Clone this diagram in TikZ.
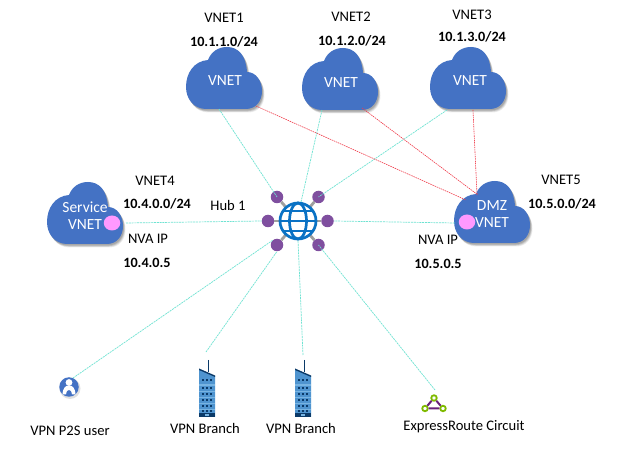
\documentclass[tikz,border=0pt]{standalone}
\usepackage{fontspec}
\setmainfont{Carlito}
\definecolor{cloudblue}{HTML}{4472C4}
\definecolor{teal1}{HTML}{6FE3D2}
\definecolor{red1}{HTML}{F03C4A}
\definecolor{hubblue}{HTML}{0A72C4}
\definecolor{dotpurple}{HTML}{7F4F9F}
\definecolor{pink1}{HTML}{FF99FF}
\definecolor{bldg}{HTML}{4F94CF}
\definecolor{bldglight}{HTML}{78B4E2}
\definecolor{bldgdark}{HTML}{0B3A68}
\definecolor{ergreen}{HTML}{7FBA00}
\definecolor{erpurple}{HTML}{68217A}
\newcommand{\cloudpath}{(20,62) .. controls (8,62) and (0,52) .. (0,40) .. controls (0,26) and (8,14) .. (22,13) .. controls (25,5) and (32,0) .. (41,0) .. controls (52,0) and (60,8) .. (61,25) .. controls (70,25) and (76,34) .. (76,44) .. controls (76,54) and (70,62) .. (60,62) -- cycle}
\tikzset{
  x=1pt,y=-1pt,
  cloudtext/.style={text=white,font=\fontsize{15.5}{15.5}\selectfont,inner sep=0pt,align=center},
  lbl/.style={text=black,font=\fontsize{14.6}{15}\selectfont,inner sep=0pt},
  addr/.style={text=black,font=\bfseries\fontsize{14.2}{15}\selectfont,inner sep=0pt},
  tealline/.style={draw=teal1,line width=.7pt,dash pattern=on 2pt off .8pt},
  redline/.style={draw=red1,line width=.6pt,dash pattern=on 1.5pt off .8pt},
  hubdot/.style={circle,fill=dotpurple,minimum size=12.5pt,inner sep=0pt},
  spoke/.style={draw=gray!75,line width=2.8pt},
  nva/.style={ellipse,fill=pink1,minimum width=16.5pt,minimum height=15pt,inner sep=0pt},
  globe/.style={draw=hubblue,line width=2.7pt},
  ernode/.style={circle,draw=ergreen,fill=white,line width=1.8pt,minimum size=5.5pt,inner sep=0pt},
  cloudpic/.pic={
    \foreach \s/\o in {5/.07,4/.09,3/.11,2/.12}{
      \fill[black,opacity=\o,shift={(\s*.5,\s*.7)}] \cloudpath;
    }
    \fill[cloudblue] \cloudpath;
  },
  buildingpic/.pic={
    \draw[bldgdark,line width=1pt] (9,0) -- (9,12);
    \fill[bldg] (0,9) -- (16,16) -- (16,57) -- (0,57) -- cycle;
    \fill[bldgdark] (0,8.5) -- (16,15.5) -- (16,17) -- (0,10) -- cycle;
    \fill[bldgdark] (0,53.5) rectangle (16,57);
    \fill[bldglight] (6,54.3) rectangle (10,56.2);
    \foreach \yy in {24.5,31,37,43,49}{
      \fill[bldglight] (0,\yy) rectangle (16,\yy+1.2);
    }
    \foreach \yy in {19,27,33,39,45,50.5}{
      \fill[bldgdark] (3,\yy) rectangle (5,\yy+2);
      \fill[bldgdark] (7,\yy) rectangle (9,\yy+2);
      \fill[bldgdark] (11,\yy) rectangle (13,\yy+2);
    }
  }
}
\usetikzlibrary{shapes.geometric}
\begin{document}
\begin{tikzpicture}
\useasboundingbox (0,0) rectangle (633,449);
\fill[white] (0,0) rectangle (633,449);

% clouds
\pic at (186,47) {cloudpic};
\pic at (302,48) {cloudpic};
\pic at (430,47) {cloudpic};
\pic at (47,182) {cloudpic};
\pic at (454,181) {cloudpic};

\node[cloudtext] (vnet1) at (225,81) {VNET};
\node[cloudtext] (vnet2) at (341,83) {VNET};
\node[cloudtext] (vnet3) at (470,81) {VNET};
\node[cloudtext] (svc) at (85,207) {Service};
\node[cloudtext] (svcv) at (85,225) {VNET};
\node[cloudtext] (dmz) at (492,206) {DMZ};
\node[cloudtext] (dmzv) at (492,223) {VNET};

% connector anchors
\coordinate (v1g) at (219,109);
\coordinate (v1r) at (256,106);
\coordinate (v2g) at (322,110);
\coordinate (v2r) at (362,108);
\coordinate (v3g) at (447,110);
\coordinate (v3r) at (473,110);
\coordinate (v4g) at (126,223);
\coordinate (v5g) at (455,223);
\coordinate (v5r1) at (466,200);
\coordinate (v5r2) at (478,195);
\coordinate (v5r3) at (477,194);
\coordinate (gt) at (301,202);
\coordinate (gb) at (298,240);

% hub
\node[hubdot] (d1) at (277,197) {};
\node[hubdot] (d2) at (318.5,197) {};
\node[hubdot] (d3) at (268,221) {};
\node[hubdot] (d4) at (327.5,221) {};
\node[hubdot] (d5) at (277,245) {};
\node[hubdot] (d6) at (318.5,245) {};
\foreach \d in {d1,d2,d3,d4,d5,d6}{ \draw[spoke] (298,221) -- (\d); }
\node[circle,fill=white,minimum size=37pt,inner sep=0pt] (hub) at (298,221) {};
\draw[globe] (298,221) circle (18);
\draw[globe] (298,221) ellipse (8.5 and 18);
\draw[globe] (280,221) -- (316,221);
\draw[globe] (283.5,211) -- (312.5,211);
\draw[globe] (283.5,231) -- (312.5,231);

% NVA markers
\node[nva] (nva4) at (112,223) {};
\node[nva] (nva5) at (467,222) {};

% bottom icons
\pic at (199,360) {buildingpic};
\pic at (295,360) {buildingpic};
\coordinate (b1) at (206,352);
\coordinate (b2) at (303,355);

\fill[black,opacity=.12] (70,388.5) circle (10.5);
\node[circle,fill=cloudblue,minimum size=19.5pt,inner sep=0pt] (user) at (69,387) {};
\fill[white] (69,382.5) circle (3.4);
\fill[white] (62.5,394.5) .. controls (63,387.5) and (65.5,385.5) .. (69,385.5) .. controls (72.5,385.5) and (75,387.5) .. (75.5,394.5) -- (72,394.5) .. controls (71.5,391) and (70.5,390) .. (69,390) .. controls (67.5,390) and (66.5,391) .. (66,394.5) -- cycle;
\coordinate (u1) at (73,378);

\node[ernode] (e1) at (434,398) {};
\node[ernode] (e2) at (425,408.5) {};
\node[ernode] (e3) at (443,408.5) {};
\draw[erpurple,line width=2pt] (e1) -- (e2) -- (e3) -- (e1);
\coordinate (e0) at (435,390);

% connectors
\draw[tealline] (v1g) -- (d1.center);
\draw[tealline] (v2g) -- (gt);
\draw[tealline] (v3g) -- (d2.center);
\draw[tealline] (v4g) -- (d3.west);
\draw[tealline] (v5g) -- (d4.east);
\draw[tealline] (u1) -- (d5.north west);
\draw[tealline] (b1) -- (d5.south);
\draw[tealline] (b2) -- (gb);
\draw[tealline] (e0) -- (d6.center);
\draw[redline] (v1r) -- (v5r1);
\draw[redline] (v2r) -- (v5r2);
\draw[redline] (v3r) -- (v5r3);

% labels
\node[lbl] (t1) at (224,18) {VNET1};
\node[addr] (a1) at (224,42) {10.1.1.0/24};
\node[lbl] (t2) at (351,17) {VNET2};
\node[addr] (a2) at (352,41) {10.1.2.0/24};
\node[lbl] (t3) at (472,15) {VNET3};
\node[addr] (a3) at (472,37) {10.1.3.0/24};
\node[lbl] (t4) at (155,181) {VNET4};
\node[addr] (a4) at (157,204) {10.4.0.0/24};
\node[lbl] (hubl) at (228,205) {Hub 1};
\node[lbl] (n4) at (148,239) {NVA IP};
\node[addr] (i4) at (147,263) {10.4.0.5};
\node[lbl] (t5) at (561,180) {VNET5};
\node[addr] (a5) at (562,204) {10.5.0.0/24};
\node[lbl] (n5) at (438,240) {NVA IP};
\node[addr] (i5) at (438,264) {10.5.0.5};
\node[lbl] (l1) at (70,431) {VPN P2S user};
\node[lbl] (l2) at (205,428) {VPN Branch};
\node[lbl] (l3) at (301,428) {VPN Branch};
\node[lbl] (l4) at (464,427) {ExpressRoute Circuit};
\end{tikzpicture}
\end{document}
